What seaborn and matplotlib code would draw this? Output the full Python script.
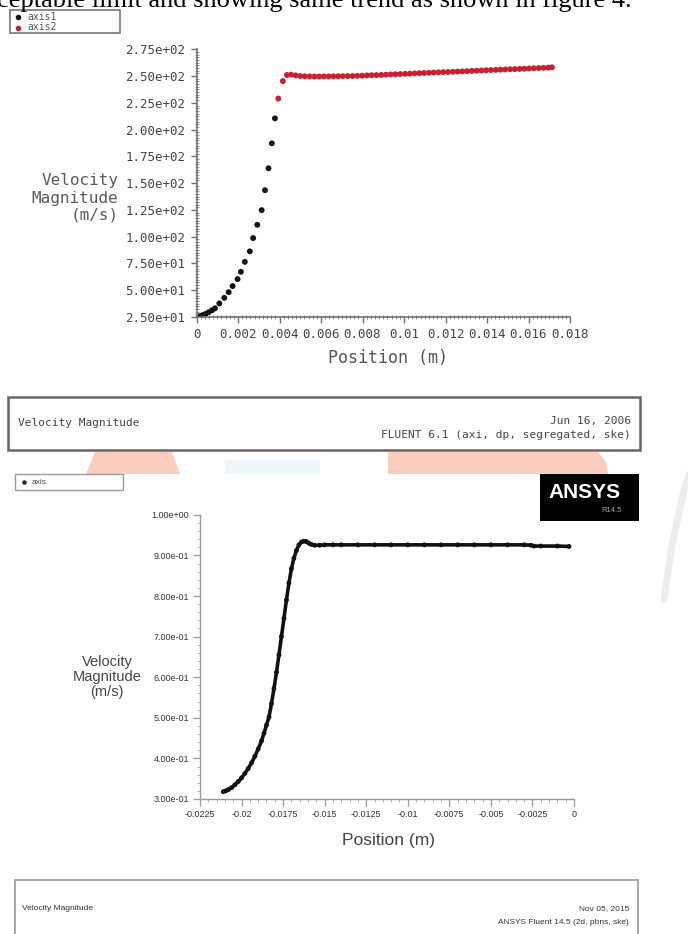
import numpy as np
import pandas as pd
import matplotlib
matplotlib.use("Agg")
import matplotlib.pyplot as plt
import seaborn as sns
from matplotlib.patches import Rectangle, Polygon
from matplotlib.lines import Line2D
from matplotlib.ticker import FixedLocator, MultipleLocator, FuncFormatter

# ---- FLUENT 6.1 run: centreline velocity, two line surfaces ----
axis1_pos = [0.0, 0.00008, 0.00018, 0.0003, 0.00045, 0.0006, 0.00075, 0.00089,
             0.0011, 0.00134, 0.00155, 0.00174, 0.00198, 0.00214, 0.00233,
             0.00257, 0.00273, 0.00293, 0.00314, 0.0033, 0.00347, 0.00363,
             0.00378]
axis1_vel = [25.2, 25.4, 25.9, 26.8, 28.0, 29.6, 31.3, 33.1,
             37.7, 42.9, 48.2, 53.9, 60.4, 67.2, 76.5,
             86.3, 98.7, 111.1, 124.8, 143.4, 163.9, 187.2,
             210.5]

axis2_pos = [0.00394, 0.00416, 0.00436, 0.00456, 0.00478, 0.00500, 0.00522,
             0.00545, 0.00568, 0.00591, 0.00614, 0.00637, 0.00660, 0.00683,
             0.00706, 0.00729, 0.00752, 0.00775, 0.00798, 0.00821, 0.00844,
             0.00867, 0.00890, 0.00913, 0.00936, 0.00959, 0.00982, 0.01005,
             0.01028, 0.01051, 0.01074, 0.01097, 0.01120, 0.01143, 0.01166,
             0.01189, 0.01212, 0.01235, 0.01258, 0.01281, 0.01304, 0.01327,
             0.01350, 0.01373, 0.01396, 0.01419, 0.01442, 0.01465, 0.01488,
             0.01511, 0.01534, 0.01557, 0.01580, 0.01603, 0.01626, 0.01649,
             0.01672, 0.01695, 0.01713]
axis2_vel = [229.0, 245.3, 251.0, 251.3, 250.6, 250.1, 249.8,
             249.7, 249.6, 249.6, 249.7, 249.7, 249.8, 249.8,
             249.9, 250.0, 250.0, 250.2, 250.4, 250.6, 250.8,
             250.9, 251.1, 251.3, 251.5, 251.7, 251.9, 252.1,
             252.3, 252.5, 252.7, 252.9, 253.1, 253.3, 253.5,
             253.7, 253.8, 254.0, 254.2, 254.4, 254.6, 254.8,
             255.0, 255.2, 255.4, 255.6, 255.8, 256.0, 256.2,
             256.4, 256.5, 256.7, 256.9, 257.1, 257.3, 257.5,
             257.7, 257.9, 258.2]

top_yticks = [25, 50, 75, 100, 125, 150, 175, 200, 225, 250, 275]
top_xticks = [0, 0.002, 0.004, 0.006, 0.008, 0.01, 0.012, 0.014, 0.016, 0.018]

# ---- ANSYS Fluent 14.5 run: axis velocity ----
axis_pos = [-0.02110, -0.02095, -0.02080, -0.02060, -0.02040, -0.02020,
            -0.02000, -0.01980, -0.01960, -0.01940, -0.01920, -0.01900,
            -0.01880, -0.01865, -0.01850, -0.01835, -0.01820, -0.01805,
            -0.01790, -0.01775, -0.01760, -0.01745, -0.01730, -0.01715,
            -0.01700, -0.01685, -0.01670, -0.01655, -0.01640, -0.01625,
            -0.01610, -0.01595, -0.01580, -0.01560, -0.01530, -0.01500,
            -0.01450, -0.01400, -0.01300, -0.01200, -0.01100, -0.01000,
            -0.00900, -0.00800, -0.00700, -0.00600, -0.00500, -0.00400,
            -0.00300, -0.00260, -0.00240, -0.00200, -0.00100, -0.00030]
axis_vel = [0.318, 0.320, 0.323, 0.328, 0.335, 0.343,
            0.352, 0.363, 0.375, 0.389, 0.405, 0.423,
            0.443, 0.462, 0.482, 0.502, 0.535, 0.572,
            0.612, 0.655, 0.700, 0.745, 0.790, 0.832,
            0.867, 0.893, 0.912, 0.926, 0.933, 0.935,
            0.934, 0.930, 0.927, 0.925, 0.925, 0.926,
            0.926, 0.926, 0.926, 0.926, 0.926, 0.926,
            0.926, 0.926, 0.926, 0.926, 0.926, 0.926,
            0.926, 0.925, 0.923, 0.923, 0.923, 0.922]

bot_yticks = [0.3, 0.4, 0.5, 0.6, 0.7, 0.8, 0.9, 1.0]
bot_xticks = [-0.0225, -0.02, -0.0175, -0.015, -0.0125, -0.01, -0.0075,
              -0.005, -0.0025, 0]

sns.set_theme(style="white")
plt.rcParams['font.family'] = ['DejaVu Sans Mono']

W, H = 688, 934
fig = plt.figure(figsize=(W / 100, H / 100), dpi=100)
fig.patch.set_facecolor("white")


def fx(x):
    return x / W


def fy(y):
    return 1 - y / H


def box(l, t, r, b):
    return [fx(l), fy(b), (r - l) / W, (b - t) / H]


def frame(l, t, r, b, **kw):
    fig.patches.append(Rectangle((fx(l), fy(b)), (r - l) / W, (b - t) / H,
                                 transform=fig.transFigure, **kw))


def bullet(x, y, color, size):
    fig.lines.append(Line2D([fx(x)], [fy(y)], transform=fig.transFigure,
                            marker="o", markersize=size, color=color, lw=0,
                            zorder=3))


# page watermark fragments between the two figures
wm = "#fbcdbf"
fig.patches.append(Polygon([(fx(95), fy(452)), (fx(172), fy(452)),
                            (fx(180), fy(474)), (fx(86), fy(474))],
                           closed=True, transform=fig.transFigure,
                           facecolor=wm, edgecolor="none", zorder=0))
fig.patches.append(Polygon([(fx(225), fy(460)), (fx(320), fy(460)),
                            (fx(320), fy(474)), (fx(225), fy(474))],
                           closed=True, transform=fig.transFigure,
                           facecolor="#ecf6f9", edgecolor="none", zorder=0))
fig.patches.append(Polygon([(fx(388), fy(452)), (fx(598), fy(452)),
                            (fx(606), fy(462)), (fx(608), fy(474)),
                            (fx(388), fy(474))],
                           closed=True, transform=fig.transFigure,
                           facecolor=wm, edgecolor="none", zorder=0))
fig.lines.append(Line2D([fx(700), fx(684), fx(672), fx(664)],
                        [fy(440), fy(490), fy(545), fy(600)],
                        transform=fig.transFigure, color="#ececec", lw=5,
                        solid_capstyle="round", zorder=0))

# running text line from the page
fig.text(fx(-3), fy(7), "ceptable limit and showing same trend as shown in figure 4.",
         family="Liberation Serif", fontsize=19, color="black", va="baseline",
         ha="left")

# ================= FLUENT 6.1 plot =================
ax1 = fig.add_axes(box(196.5, 49.3, 570, 317))
df_top = pd.DataFrame({
    "Position": axis1_pos + axis2_pos,
    "Velocity": axis1_vel + axis2_vel,
    "surface": ["axis1"] * len(axis1_pos) + ["axis2"] * len(axis2_pos),
})
sns.scatterplot(data=df_top, x="Position", y="Velocity", hue="surface",
                palette={"axis1": "#151515", "axis2": "#c8202f"},
                s=18, marker="o", edgecolor="none", legend=False, ax=ax1)
ax1.set_xlim(0, 0.018)
ax1.set_ylim(25, 275)
for side in ("top", "right"):
    ax1.spines[side].set_visible(False)
for side in ("left", "bottom"):
    ax1.spines[side].set_color("#707070")
    ax1.spines[side].set_linewidth(1.2)
ax1.yaxis.set_major_locator(FixedLocator(top_yticks))
ax1.yaxis.set_minor_locator(MultipleLocator(2.5))
ax1.xaxis.set_major_locator(FixedLocator(top_xticks))
ax1.xaxis.set_minor_locator(MultipleLocator(0.0002))
ax1.yaxis.set_major_formatter(FuncFormatter(lambda v, p: f"{v:.2e}"))
ax1.xaxis.set_major_formatter(FuncFormatter(lambda v, p: f"{v:g}"))
ax1.tick_params(axis="both", which="major", direction="out", length=4,
                width=1, color="#707070", labelsize=9, labelcolor="#444444",
                pad=4)
ax1.tick_params(axis="both", which="minor", direction="inout", length=3,
                width=0.7, color="#909090")
ax1.tick_params(axis="y", which="both", left=True)
ax1.tick_params(axis="x", which="both", bottom=True)
ax1.set_xlabel("")
ax1.set_ylabel("")
ax1.patch.set_alpha(0)

for txt, yy in (("Velocity", 181), ("Magnitude", 198), ("(m/s)", 215)):
    fig.text(fx(118.5), fy(yy), txt, fontsize=11.5, color="#5a5a5a",
             ha="right", va="center")
fig.text(fx(388), fy(358), "Position (m)", fontsize=12, color="#555555",
         ha="center", va="center")

# legend block of the FLUENT 6.1 plot
frame(10, 10, 120, 33, facecolor="white", edgecolor="#777777", lw=1.2, zorder=1)
bullet(18, 17, "#151515", 3)
bullet(18, 27.5, "#c8202f", 3)
fig.text(fx(27), fy(17), "axis1", fontsize=7, color="#555555", va="center")
fig.text(fx(27), fy(27.5), "axis2", fontsize=7, color="#555555", va="center")

# title block of the FLUENT 6.1 plot
frame(8, 397, 640, 450, facecolor="white", edgecolor="#666666", lw=1.8, zorder=1)
fig.text(fx(18), fy(422.5), "Velocity Magnitude", fontsize=8, color="#444444",
         va="center")
fig.text(fx(631), fy(421), "Jun 16, 2006", fontsize=8, color="#444444",
         ha="right", va="center")
fig.text(fx(631), fy(435), "FLUENT 6.1 (axi, dp, segregated, ske)", fontsize=8,
         color="#444444", ha="right", va="center")

# ================= ANSYS Fluent 14.5 plot =================
ax2 = fig.add_axes(box(200, 514.8, 574, 799))
df_bot = pd.DataFrame({"Position": axis_pos, "Velocity": axis_vel})
sns.lineplot(data=df_bot, x="Position", y="Velocity", color="#111111",
             lw=2.6, sort=False, ax=ax2)
sns.scatterplot(data=df_bot, x="Position", y="Velocity", color="#111111",
                s=12, edgecolor="none", ax=ax2)
ax2.set_xlim(-0.0225, 0)
ax2.set_ylim(0.3, 1.0)
for side in ("top", "right"):
    ax2.spines[side].set_visible(False)
for side in ("left", "bottom"):
    ax2.spines[side].set_color("#9a9a9a")
    ax2.spines[side].set_linewidth(1.0)
ax2.yaxis.set_major_locator(FixedLocator(bot_yticks))
ax2.yaxis.set_minor_locator(MultipleLocator(0.02))
ax2.xaxis.set_major_locator(FixedLocator(bot_xticks))
ax2.xaxis.set_minor_locator(MultipleLocator(0.0005))
ax2.yaxis.set_major_formatter(FuncFormatter(lambda v, p: f"{v:.2e}"))
ax2.xaxis.set_major_formatter(FuncFormatter(lambda v, p: f"{v:g}"))
ax2.tick_params(axis="both", which="major", direction="out", length=5,
                width=0.9, color="#9a9a9a", labelsize=6.5, labelcolor="#333333",
                pad=3)
ax2.tick_params(axis="both", which="minor", direction="out", length=2.5,
                width=0.7, color="#b0b0b0")
ax2.tick_params(axis="y", which="both", left=True)
ax2.tick_params(axis="x", which="both", bottom=True)
for lab in ax2.get_xticklabels() + ax2.get_yticklabels():
    lab.set_family("Liberation Sans")
ax2.set_xlabel("")
ax2.set_ylabel("")
ax2.patch.set_alpha(0)

for txt, yy in (("Velocity", 662), ("Magnitude", 677), ("(m/s)", 692)):
    fig.text(fx(107), fy(yy), txt, family="Liberation Sans", fontsize=10.5,
             color="#444444", ha="center", va="center")
fig.text(fx(388), fy(841), "Position (m)", family="Liberation Sans",
         fontsize=12.5, color="#444444", ha="center", va="center")

# legend block
frame(15, 474, 123, 490, facecolor="white", edgecolor="#999999", lw=1.0, zorder=1)
bullet(24, 482, "#222222", 2.2)
fig.text(fx(32), fy(482), "axis", family="Liberation Sans", fontsize=6,
         color="#444444", va="center")

# ANSYS badge
frame(540, 474, 639, 521, facecolor="black", edgecolor="none", zorder=1)
fig.text(fx(585), fy(492), "ANSYS", family="Liberation Sans", weight="bold",
         fontsize=15, color="white", ha="center", va="center")
fig.text(fx(622), fy(510), "R14.5", family="Liberation Sans", fontsize=5.5,
         color="#aaaaaa", ha="right", va="center")

# title block
frame(15, 880, 638, 945, facecolor="white", edgecolor="#999999", lw=1.2, zorder=1)
fig.text(fx(22), fy(909), "Velocity Magnitude", family="Liberation Sans",
         fontsize=6, color="#333333", va="center")
fig.text(fx(629), fy(909), "Nov 05, 2015", family="Liberation Sans",
         fontsize=6, color="#333333", ha="right", va="center")
fig.text(fx(629), fy(923), "ANSYS Fluent 14.5 (2d, pbns, ske)",
         family="Liberation Sans", fontsize=6, color="#333333", ha="right",
         va="center")

fig.savefig("out.png", dpi=100, facecolor="white")
